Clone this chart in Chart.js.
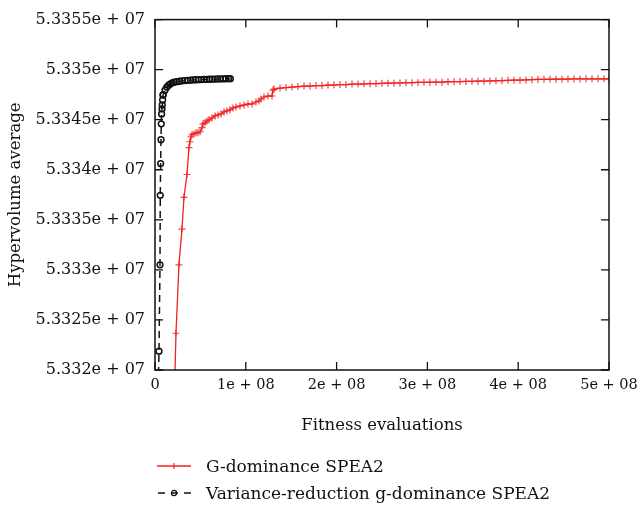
<!DOCTYPE html>
<html>
<head>
<meta charset="utf-8">
<script src="https://cdn.jsdelivr.net/npm/chart.js@4/dist/chart.umd.min.js"></script>
<style>
  body { margin: 0; background: #fff; }
  #wrap { position: relative; width: 640px; height: 511px; }
  #legend { position: absolute; left: 157px; top: 452px; font-family: "DejaVu Serif", serif; font-size: 17px; color: #111; }
  #legend div { height: 27px; display: flex; align-items: center; }
  #legend svg { margin-right: 14px; }
</style>
</head>
<body>
<div id="wrap">
  <canvas id="chart" width="640" height="511"></canvas>
  <div id="legend">
    <div><svg width="35" height="12"><line x1="0" y1="6" x2="34" y2="6" stroke="#f02222" stroke-width="1.3"/><line x1="17" y1="3" x2="17" y2="9" stroke="#f02222" stroke-width="1.2"/></svg>G-dominance SPEA2</div>
    <div><svg width="35" height="12"><line x1="0" y1="6" x2="34" y2="6" stroke="#111" stroke-width="1.3" stroke-dasharray="7,6" stroke-dashoffset="-1"/><circle cx="17" cy="6" r="2.6" fill="none" stroke="#111" stroke-width="1.2"/></svg>Variance-reduction g-dominance SPEA2</div>
  </div>
</div>
<script>
// evaluations in millions, hypervolume averages
const redEvals = [21.5, 23.1, 26.4, 29.7, 31.9, 35.2, 37.4, 38.5, 39.6, 40.7, 42.9, 45.2, 47.4, 49.6, 51.8, 52.9, 55.1, 57.3, 59.5,
  62.8, 66.1, 69.4, 72.7, 76.0, 79.3, 82.6, 85.9, 89.2, 93.6, 98.0, 102.4, 106.8, 111.2, 114.5, 116.7, 120.0, 124.4, 128.9,
  130.0, 131.1, 137.7, 144.3, 150.9, 157.5, 164.1, 170.7, 177.3, 183.9, 190.5, 197.1, 203.7, 210.3, 217.0, 223.6, 230.2,
  236.8, 243.4, 250.0, 256.6, 263.2, 269.8, 276.4, 283.0, 289.6, 296.2, 302.8, 309.5, 316.1, 322.7, 329.3, 335.9, 342.5,
  349.1, 355.7, 362.3, 368.9, 375.5, 382.1, 388.8, 395.4, 402.0, 408.6, 415.2, 421.8, 428.4, 435.0, 441.6, 448.2, 454.8,
  461.4, 468.1, 474.7, 481.3, 487.9, 494.5, 500.0]
const redValues = [53318000, 53323670, 53330510, 53334080, 53337250, 53339530, 53342210, 53342800, 53343300, 53343500, 53343600,
  53343700, 53343700, 53343800, 53344200, 53344590, 53344690, 53344890, 53344990, 53345180, 53345380, 53345480, 53345580,
  53345780, 53345880, 53345980, 53346180, 53346270, 53346370, 53346470, 53346570, 53346570, 53346770, 53346870, 53347070,
  53347270, 53347370, 53347370, 53347960, 53348060, 53348160, 53348210, 53348260, 53348310, 53348360, 53348360, 53348410,
  53348410, 53348460, 53348460, 53348510, 53348510, 53348560, 53348560, 53348580, 53348600, 53348610, 53348630, 53348650,
  53348650, 53348670, 53348690, 53348700, 53348720, 53348730, 53348740, 53348750, 53348750, 53348790, 53348800, 53348810,
  53348820, 53348830, 53348850, 53348850, 53348870, 53348890, 53348900, 53348930, 53348950, 53348950, 53348970, 53349000,
  53349020, 53349030, 53349040, 53349050, 53349050, 53349060, 53349070, 53349070, 53349080, 53349080, 53349080, 53349080,
  53349080]

const blackEvals = [3.0, 4.4, 5.5, 5.8, 6.2, 6.6, 6.9, 7.3, 7.7, 8.0, 8.4, 8.8, 9, 11, 13, 15, 17, 19, 21, 24, 27, 30, 33, 36,
  39, 42, 45, 48, 51, 54, 57, 60, 63, 66, 69, 72, 75, 78, 81, 83]
const blackValues = [53316000, 53321880, 53330510, 53337450, 53340620, 53343000, 53344590, 53345580, 53346080, 53346470,
  53346970, 53347460, 53347500, 53347950, 53348250, 53348450, 53348580, 53348680, 53348740, 53348800, 53348840, 53348880,
  53348910, 53348930, 53348950, 53348970, 53348990, 53349000, 53349010, 53349020, 53349030, 53349040, 53349050, 53349060,
  53349070, 53349070, 53349080, 53349090, 53349100, 53349100]

const yTicks = [53320000, 53325000, 53330000, 53335000, 53340000, 53345000, 53350000, 53355000]
const xTicks = [0, 1e8, 2e8, 3e8, 4e8, 5e8]

const serif = "'DejaVu Serif', 'Liberation Serif', serif"

function sci(v, exp) {
    if (v === 0) return "0"
    const m = parseFloat((v / Math.pow(10, exp)).toFixed(6))
    return `${m}e + ${String(exp).padStart(2, "0")}`
}

// box round the plot, ticks pointing inward like the original
const frame = {
    id: "frame",
    afterDraw(chart) {
        const { ctx, chartArea: a, scales } = chart
        ctx.save()
        ctx.strokeStyle = "#111"
        ctx.lineWidth = 1.5
        ctx.strokeRect(a.left, a.top, a.right - a.left, a.bottom - a.top)
        ctx.lineWidth = 1.3
        ctx.beginPath()
        scales.y.ticks.forEach((t, i) => {
            const y = scales.y.getPixelForTick(i)
            ctx.moveTo(a.left, y); ctx.lineTo(a.left + 8, y)
            ctx.moveTo(a.right, y); ctx.lineTo(a.right - 8, y)
        })
        scales.x.ticks.forEach((t, i) => {
            const x = scales.x.getPixelForTick(i)
            ctx.moveTo(x, a.bottom); ctx.lineTo(x, a.bottom - 8)
            ctx.moveTo(x, a.top); ctx.lineTo(x, a.top + 8)
        })
        ctx.stroke()
        ctx.restore()
    }
}

const ctx = document.getElementById("chart")

new Chart(ctx, {
    type: "line",
    data: {
        datasets: [{
            label: "G-dominance SPEA2",
            data: redEvals.map((e, i) => ({ x: e * 1e6, y: redValues[i] })),
            borderColor: "#f02222",
            borderWidth: 1.3,
            pointStyle: "cross",
            pointRadius: 3.5,
            pointBorderWidth: 1.2,
            pointBorderColor: "rgba(240, 34, 34, 0.85)",
            tension: 0
        }, {
            label: "Variance-reduction g-dominance SPEA2",
            data: blackEvals.map((e, i) => ({ x: e * 1e6, y: blackValues[i] })),
            borderColor: "#111",
            borderWidth: 1.5,
            borderDash: [7, 5],
            pointStyle: "circle",
            pointRadius: 2.9,
            pointBorderWidth: 1.5,
            pointBorderColor: "#111",
            pointBackgroundColor: "rgba(0,0,0,0)",
            tension: 0
        }]
    },
    options: {
        responsive: false,
        animation: false,
        layout: { padding: { left: 0, right: 31, top: 17, bottom: 75 } },
        plugins: {
            legend: { display: false },
            tooltip: { enabled: false }
        },
        scales: {
            x: {
                type: "linear",
                min: 0,
                max: 5e8,
                afterBuildTicks: (s) => { s.ticks = xTicks.map(v => ({ value: v })) },
                afterFit: (s) => { s.height = 66; s.paddingLeft = 0; s.paddingRight = 0 },
                grid: { display: false, drawTicks: false },
                border: { display: false },
                ticks: {
                    padding: 7,
                    color: "#111",
                    maxRotation: 0,
                    font: { family: serif, size: 14.5 },
                    callback: (v) => sci(v, 8)
                },
                title: {
                    display: true,
                    text: "Fitness evaluations",
                    color: "#111",
                    font: { family: serif, size: 16.5 },
                    padding: { top: 6, bottom: 0 }
                }
            },
            y: {
                type: "linear",
                min: 53320000,
                max: 53355000,
                afterBuildTicks: (s) => { s.ticks = yTicks.map(v => ({ value: v })) },
                afterFit: (s) => { s.width = 155 },
                grid: { display: false, drawTicks: false },
                border: { display: false },
                ticks: {
                    padding: 10,
                    color: "#111",
                    font: { family: serif, size: 16 },
                    callback: (v) => sci(v, 7)
                },
                title: {
                    display: true,
                    text: "Hypervolume average",
                    color: "#111",
                    font: { family: serif, size: 16.5 },
                    padding: { top: 6, bottom: 0 }
                }
            }
        }
    },
    plugins: [frame]
});
</script>
</body>
</html>
